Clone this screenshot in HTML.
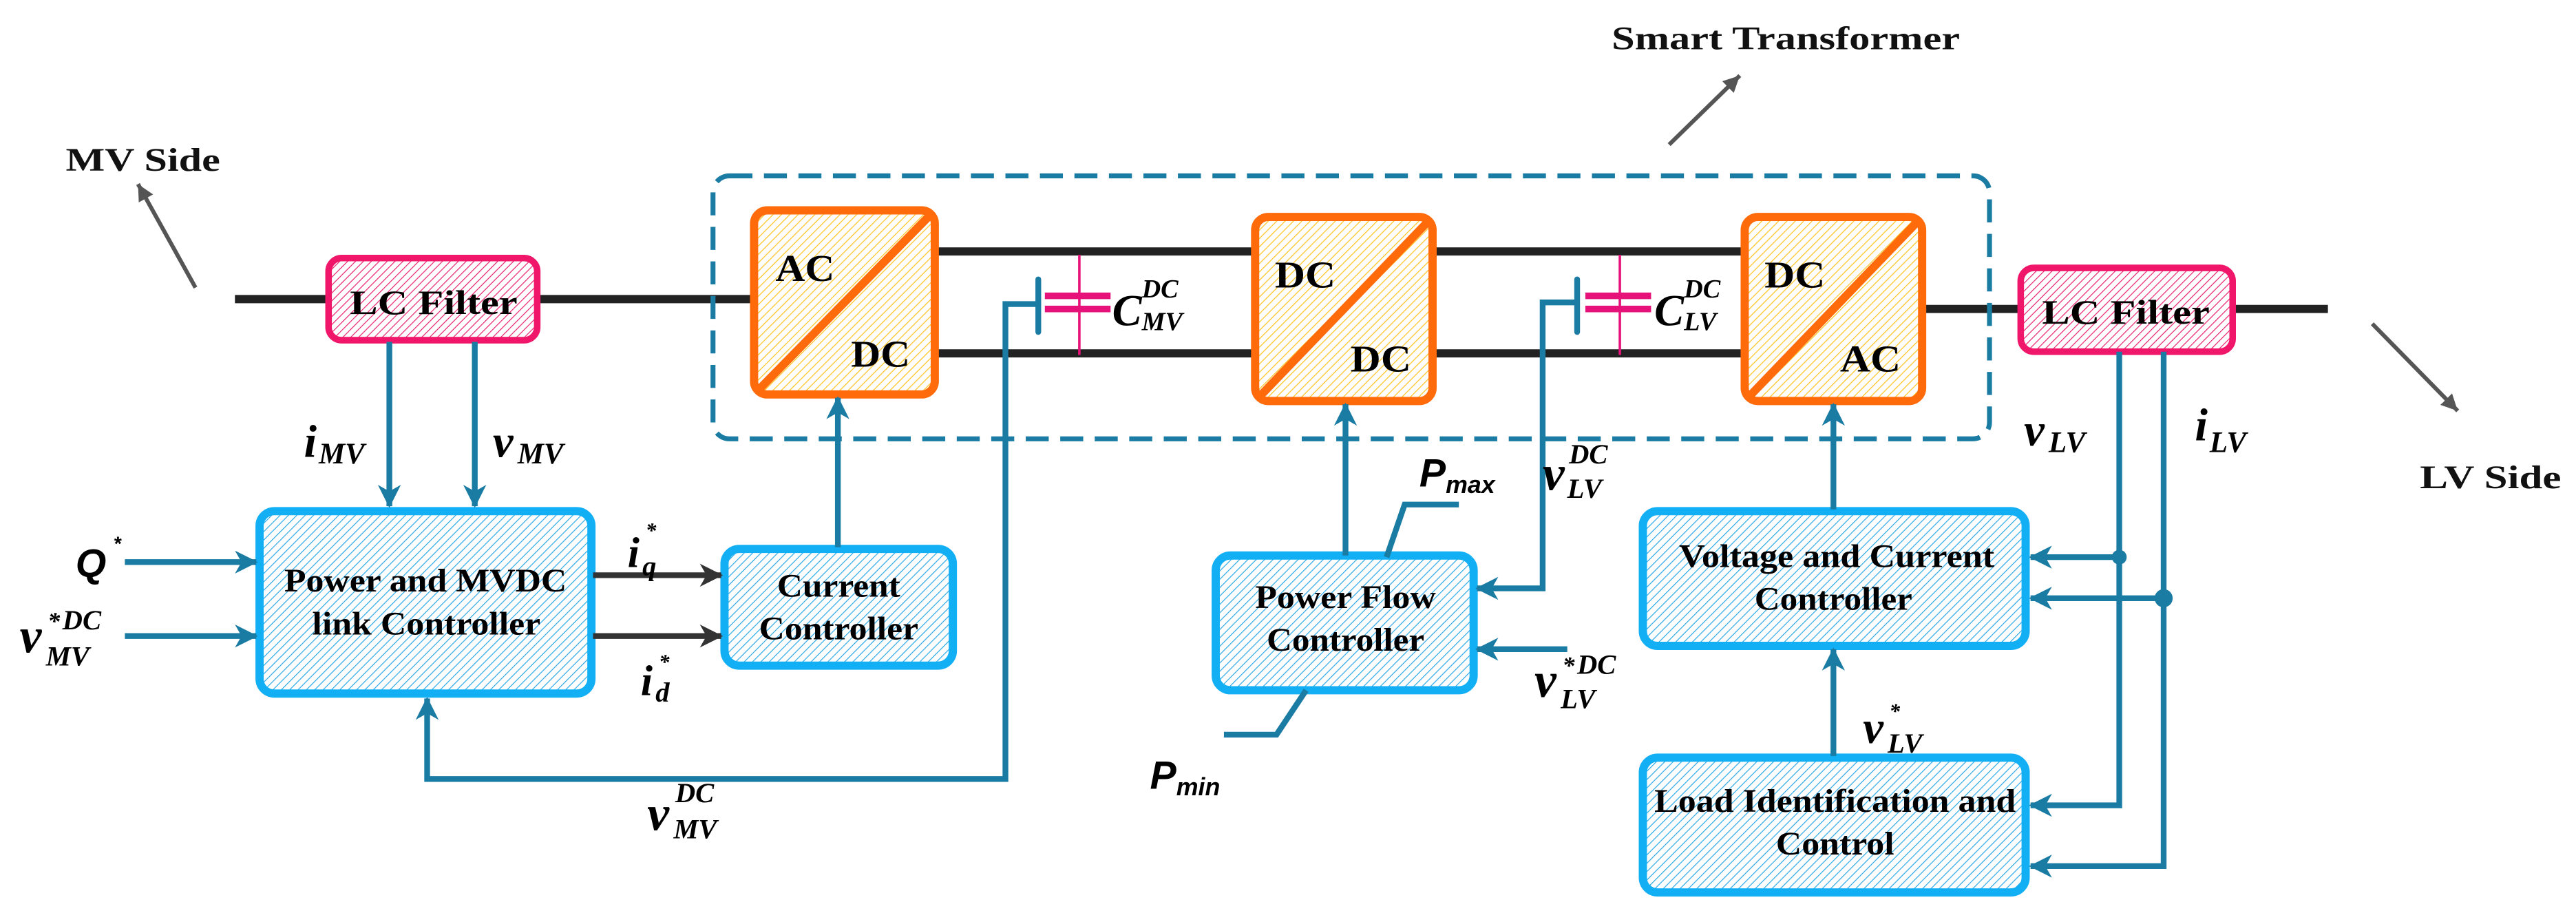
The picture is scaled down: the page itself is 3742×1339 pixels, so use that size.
<!DOCTYPE html>
<html><head><meta charset="utf-8"><style>
html,body{margin:0;padding:0;background:#fff;}
svg{display:block;}
text{font-family:"Liberation Serif","Times New Roman","Nimbus Roman","FreeSerif",serif;font-weight:bold;fill:#000;}
.m{font-style:italic;}
.s{font-family:"Liberation Sans","Arial",sans-serif;font-style:italic;font-weight:bold;}
.lab{fill:#111;}
</style></head><body>
<svg width="3742" height="1339" viewBox="0 0 1568 561" preserveAspectRatio="none" xmlns="http://www.w3.org/2000/svg" font-family="Liberation Serif, serif">
<defs>
<pattern id="hb" patternUnits="userSpaceOnUse" width="3.6" height="3.6" patternTransform="rotate(45)">
<rect width="3.6" height="3.6" fill="#fff"/><line x1="0" y1="0" x2="0" y2="3.6" stroke="#2aa8e8" stroke-width="1"/></pattern>
<pattern id="ho" patternUnits="userSpaceOnUse" width="3.6" height="3.6" patternTransform="rotate(45)">
<rect width="3.6" height="3.6" fill="#fff"/><line x1="0" y1="0" x2="0" y2="3.6" stroke="#ffc21a" stroke-width="1"/></pattern>
<pattern id="hp" patternUnits="userSpaceOnUse" width="3.4" height="3.4" patternTransform="rotate(45)">
<rect width="3.4" height="3.4" fill="#fff"/><line x1="0" y1="0" x2="0" y2="3.4" stroke="#e8206e" stroke-width="1"/></pattern>
<marker id="ab" markerUnits="userSpaceOnUse" markerWidth="16" markerHeight="16" refX="13" refY="7" orient="auto">
<path d="M0,0 L14,7 L0,14 L4,7 Z" fill="#1a7ba3"/></marker>
<marker id="ak" markerUnits="userSpaceOnUse" markerWidth="16" markerHeight="16" refX="13" refY="7" orient="auto">
<path d="M0,0 L14,7 L0,14 L4,7 Z" fill="#333"/></marker>
<marker id="ag" markerUnits="userSpaceOnUse" markerWidth="12" markerHeight="12" refX="10" refY="5" orient="auto">
<path d="M0,0 L10,5 L0,10 Z" fill="#555"/></marker>
</defs>

<line x1="119" y1="175" x2="84" y2="112" stroke="#555" stroke-width="2.5" marker-end="url(#ag)"/>
<line x1="1016" y1="88" x2="1059" y2="46" stroke="#555" stroke-width="2.5" marker-end="url(#ag)"/>
<line x1="1444" y1="197" x2="1496" y2="250" stroke="#555" stroke-width="2.5" marker-end="url(#ag)"/>
<text font-family="Liberation Serif, serif" x="40" y="104" font-size="20" textLength="94" lengthAdjust="spacingAndGlyphs" class="lab" fill="#1c2a33">MV Side</text>
<text font-family="Liberation Serif, serif" x="981" y="30" font-size="20" textLength="212" lengthAdjust="spacingAndGlyphs" class="lab">Smart Transformer</text>
<text font-family="Liberation Serif, serif" x="1473" y="297" font-size="20" textLength="86" lengthAdjust="spacingAndGlyphs" class="lab">LV Side</text>

<line x1="143" y1="182" x2="460" y2="182" stroke="#222" stroke-width="5"/>
<line x1="568" y1="153" x2="764" y2="153" stroke="#222" stroke-width="5"/>
<line x1="568" y1="215" x2="764" y2="215" stroke="#222" stroke-width="5"/>
<line x1="871" y1="153" x2="1063" y2="153" stroke="#222" stroke-width="5"/>
<line x1="871" y1="215" x2="1063" y2="215" stroke="#222" stroke-width="5"/>
<line x1="1169" y1="188" x2="1417" y2="188" stroke="#222" stroke-width="5"/>

<rect x="434" y="107" width="777" height="160" rx="10" fill="none" stroke="#1a7ba3" stroke-width="3" stroke-dasharray="14,7"/>

<rect x="200" y="157" width="127" height="50" rx="8" fill="url(#hp)" stroke="#f0176a" stroke-width="4"/>
<text font-family="Liberation Serif, serif" x="213" y="191" font-size="21" textLength="102" lengthAdjust="spacingAndGlyphs">LC Filter</text>
<rect x="1230" y="163" width="129" height="51" rx="8" fill="url(#hp)" stroke="#f0176a" stroke-width="4"/>
<text font-family="Liberation Serif, serif" x="1243" y="197" font-size="21" textLength="102" lengthAdjust="spacingAndGlyphs">LC Filter</text>

<g stroke="#ff6a0a" stroke-width="5">
<rect x="459" y="128" width="110" height="112" rx="8" fill="url(#ho)"/>
<line x1="461" y1="238" x2="567" y2="130"/>
<rect x="764" y="132" width="108" height="112" rx="8" fill="url(#ho)"/>
<line x1="766" y1="242" x2="870" y2="134"/>
<rect x="1062" y="132" width="108" height="112" rx="8" fill="url(#ho)"/>
<line x1="1064" y1="242" x2="1168" y2="134"/>
</g>
<text font-family="Liberation Serif, serif" x="472" y="171" font-size="23" textLength="36" lengthAdjust="spacingAndGlyphs">AC</text>
<text font-family="Liberation Serif, serif" x="518" y="223" font-size="23" textLength="36" lengthAdjust="spacingAndGlyphs">DC</text>
<text font-family="Liberation Serif, serif" x="776" y="175" font-size="23" textLength="37" lengthAdjust="spacingAndGlyphs">DC</text>
<text font-family="Liberation Serif, serif" x="822" y="226" font-size="23" textLength="37" lengthAdjust="spacingAndGlyphs">DC</text>
<text font-family="Liberation Serif, serif" x="1074" y="175" font-size="23" textLength="37" lengthAdjust="spacingAndGlyphs">DC</text>
<text font-family="Liberation Serif, serif" x="1120" y="226" font-size="23" textLength="37" lengthAdjust="spacingAndGlyphs">AC</text>

<line x1="657" y1="155" x2="657" y2="216" stroke="#e6127a" stroke-width="1.5"/>
<rect x="636" y="178" width="40" height="4" fill="#e6127a"/>
<rect x="636" y="186" width="40" height="4" fill="#e6127a"/>
<line x1="632" y1="170" x2="632" y2="202" stroke="#1a7ba3" stroke-width="3.5" stroke-linecap="round"/>
<line x1="986" y1="155" x2="986" y2="216" stroke="#e6127a" stroke-width="1.5"/>
<rect x="965" y="178" width="40" height="4" fill="#e6127a"/>
<rect x="965" y="186" width="40" height="4" fill="#e6127a"/>
<line x1="960" y1="170" x2="960" y2="202" stroke="#1a7ba3" stroke-width="3.5" stroke-linecap="round"/>
<text font-family="Liberation Serif, serif" class="m" x="677" y="198" font-size="27">C</text>
<text font-family="Liberation Serif, serif" class="m" x="695" y="181" font-size="16">DC</text>
<text font-family="Liberation Serif, serif" class="m" x="695" y="201" font-size="16">MV</text>
<text font-family="Liberation Serif, serif" class="m" x="1007" y="198" font-size="27">C</text>
<text font-family="Liberation Serif, serif" class="m" x="1025" y="181" font-size="16">DC</text>
<text font-family="Liberation Serif, serif" class="m" x="1025" y="201" font-size="16">LV</text>

<g stroke="#12aff5" stroke-width="5" fill="url(#hb)">
<rect x="158" y="311" width="202" height="111" rx="9"/>
<rect x="441" y="334" width="139" height="71" rx="9"/>
<rect x="740" y="338" width="157" height="82" rx="9"/>
<rect x="1000" y="311" width="233" height="82" rx="9"/>
<rect x="1000" y="461" width="233" height="82" rx="9"/>
</g>
<text font-family="Liberation Serif, serif" x="173" y="360" font-size="20" textLength="172" lengthAdjust="spacingAndGlyphs">Power and MVDC</text>
<text font-family="Liberation Serif, serif" x="190" y="386" font-size="20" textLength="139" lengthAdjust="spacingAndGlyphs">link Controller</text>
<text font-family="Liberation Serif, serif" x="473" y="363" font-size="20" textLength="75" lengthAdjust="spacingAndGlyphs">Current</text>
<text font-family="Liberation Serif, serif" x="462" y="389" font-size="20" textLength="97" lengthAdjust="spacingAndGlyphs">Controller</text>
<text font-family="Liberation Serif, serif" x="764" y="370" font-size="20" textLength="110" lengthAdjust="spacingAndGlyphs">Power Flow</text>
<text font-family="Liberation Serif, serif" x="771" y="396" font-size="20" textLength="96" lengthAdjust="spacingAndGlyphs">Controller</text>
<text font-family="Liberation Serif, serif" x="1022" y="345" font-size="20" textLength="192" lengthAdjust="spacingAndGlyphs">Voltage and Current</text>
<text font-family="Liberation Serif, serif" x="1068" y="371" font-size="20" textLength="96" lengthAdjust="spacingAndGlyphs">Controller</text>
<text font-family="Liberation Serif, serif" x="1007" y="494" font-size="20" textLength="220" lengthAdjust="spacingAndGlyphs">Load Identification and</text>
<text font-family="Liberation Serif, serif" x="1081" y="520" font-size="20" textLength="72" lengthAdjust="spacingAndGlyphs">Control</text>

<g stroke="#1a7ba3" stroke-width="3.5" fill="none">
<line x1="237" y1="208" x2="237" y2="308" marker-end="url(#ab)"/>
<line x1="289" y1="208" x2="289" y2="308" marker-end="url(#ab)"/>
<line x1="76" y1="342" x2="156" y2="342" marker-end="url(#ab)"/>
<line x1="76" y1="387" x2="156" y2="387" marker-end="url(#ab)"/>
<line x1="510" y1="333" x2="510" y2="242" marker-end="url(#ab)"/>
<polyline points="632,185 612,185 612,474 260,474 260,425" marker-end="url(#ab)"/>
<line x1="819" y1="338" x2="819" y2="246" marker-end="url(#ab)"/>
<polyline points="844,339 855,307 888,307"/>
<polyline points="795,420 777,447 745,447"/>
<polyline points="960,184 939,184 939,358 899,358" marker-end="url(#ab)"/>
<line x1="954" y1="395" x2="899" y2="395" marker-end="url(#ab)"/>
<line x1="1116" y1="310" x2="1116" y2="246" marker-end="url(#ab)"/>
<line x1="1116" y1="460" x2="1116" y2="395" marker-end="url(#ab)"/>
<polyline points="1290,214 1290,490 1236,490" marker-end="url(#ab)"/>
<polyline points="1317,214 1317,527 1236,527" marker-end="url(#ab)"/>
<line x1="1290" y1="339" x2="1236" y2="339" marker-end="url(#ab)"/>
<line x1="1317" y1="364" x2="1236" y2="364" marker-end="url(#ab)"/>
</g>
<circle cx="1290" cy="339" r="4.5" fill="#1a7ba3"/>
<circle cx="1317" cy="364" r="5.5" fill="#1a7ba3"/>

<line x1="361" y1="350" x2="439" y2="350" stroke="#333" stroke-width="3.5" marker-end="url(#ak)"/>
<line x1="361" y1="387" x2="439" y2="387" stroke="#333" stroke-width="3.5" marker-end="url(#ak)"/>

<g font-family="Liberation Serif, serif">
<text class="m" x="185" y="278" font-size="28">i</text><text class="m" x="194" y="282" font-size="18">MV</text>
<text class="m" x="300" y="278" font-size="28">v</text><text class="m" x="315" y="282" font-size="18">MV</text>
<text class="s" font-family="Liberation Sans, sans-serif" x="46" y="351" font-size="24">Q</text><text class="s" font-family="Liberation Sans, sans-serif" x="69" y="335" font-size="12">*</text>
<text class="m" x="12" y="397" font-size="30">v</text><text class="m" x="29" y="383" font-size="15">*</text><text class="m" x="38" y="383" font-size="17">DC</text><text class="m" x="28" y="405" font-size="17">MV</text>
<text class="m" x="382" y="345" font-size="26">i</text><text class="m" x="393" y="327" font-size="13">*</text><text class="m" x="391" y="350" font-size="17">q</text>
<text class="m" x="390" y="423" font-size="26">i</text><text class="m" x="401" y="407" font-size="13">*</text><text class="m" x="399" y="427" font-size="17">d</text>
<text class="m" x="394" y="505" font-size="30">v</text><text class="m" x="411" y="488" font-size="17">DC</text><text class="m" x="410" y="510" font-size="17">MV</text>
<text class="s" font-family="Liberation Sans, sans-serif" x="864" y="296" font-size="24">P</text><text class="s" font-family="Liberation Sans, sans-serif" x="880" y="300" font-size="15">max</text>
<text class="m" x="939" y="298" font-size="30">v</text><text class="m" x="955" y="282" font-size="17">DC</text><text class="m" x="954" y="303" font-size="17">LV</text>
<text class="m" x="934" y="424" font-size="30">v</text><text class="m" x="951" y="410" font-size="15">*</text><text class="m" x="960" y="410" font-size="17">DC</text><text class="m" x="950" y="431" font-size="17">LV</text>
<text class="s" font-family="Liberation Sans, sans-serif" x="700" y="480" font-size="24">P</text><text class="s" font-family="Liberation Sans, sans-serif" x="716" y="484" font-size="15">min</text>
<text class="m" x="1232" y="271" font-size="28">v</text><text class="m" x="1247" y="275" font-size="18">LV</text>
<text class="m" x="1336" y="268" font-size="28">i</text><text class="m" x="1345" y="275" font-size="18">LV</text>
<text class="m" x="1134" y="452" font-size="28">v</text><text class="m" x="1150" y="437" font-size="13">*</text><text class="m" x="1149" y="458" font-size="17">LV</text>
</g>
</svg>
</body></html>
